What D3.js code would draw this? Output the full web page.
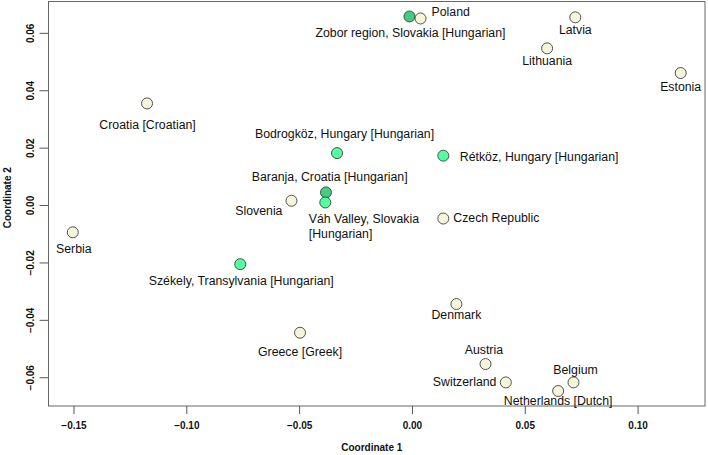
<!DOCTYPE html>
<html>
<head>
<meta charset="utf-8">
<script src="https://cdn.jsdelivr.net/npm/d3@7"></script>
<style>
    body { margin: 0; background: #fff; }
    svg text { font-family: "Liberation Sans", Arial, sans-serif; }
    .axis-text { font-family: "Liberation Sans Narrow", "Arial Narrow", "Liberation Sans", sans-serif !important; font-weight: bold; }
</style>
</head>
<body>
<div id="chart"></div>
<script>
// MDS coordinates
const names = [
    "Zobor region, Slovakia [Hungarian]", "Poland", "Latvia", "Lithuania", "Estonia",
    "Croatia [Croatian]", "Bodrogköz, Hungary [Hungarian]", "Rétköz, Hungary [Hungarian]",
    "Baranja, Croatia [Hungarian]", "Slovenia", "Váh Valley, Slovakia\n[Hungarian]",
    "Czech Republic", "Serbia", "Székely, Transylvania [Hungarian]", "Denmark",
    "Greece [Greek]", "Austria", "Switzerland", "Belgium", "Netherlands [Dutch]"
];
const coord1 = [
    -0.0011, 0.0038, 0.0724, 0.0599, 0.1191,
    -0.1174, -0.0332, 0.0139,
    -0.0381, -0.0534, -0.0384,
    0.0139, -0.1503, -0.0761, 0.0197,
    -0.0496, 0.0326, 0.0416, 0.0716, 0.0648
];
const coord2 = [
    0.0657, 0.0650, 0.0654, 0.0546, 0.0460,
    0.0354, 0.0181, 0.0172,
    0.0044, 0.0015, 0.0009,
    -0.0047, -0.0095, -0.0206, -0.0345,
    -0.0445, -0.0554, -0.0618, -0.0618, -0.0648
];
// 0 = reference population, 1 = Hungarian (bright), 2 = Hungarian (dark)
const groups = [2, 0, 0, 0, 0, 0, 1, 1, 2, 0, 1, 0, 0, 1, 0, 0, 0, 0, 0, 0];
const groupColors = ["#F5F5DC", "#54FF9F", "#43CD80"];

const xTicks = [-0.15, -0.10, -0.05, 0.00, 0.05, 0.10];
const yTicks = [-0.06, -0.04, -0.02, 0.00, 0.02, 0.04, 0.06];
const xTitle = "Coordinate 1";
const yTitle = "Coordinate 2";

// label placement relative to each point: text-anchor, dx, dy
const labelPlacement = {
    "Zobor region, Slovakia [Hungarian]": ["middle", 1, 17],
    "Poland": ["start", 11, -6],
    "Latvia": ["middle", 0, 13],
    "Lithuania": ["middle", 0, 12.5],
    "Estonia": ["middle", 0, 13.5],
    "Croatia [Croatian]": ["middle", 0.5, 22],
    "Bodrogköz, Hungary [Hungarian]": ["middle", 7.5, -19],
    "Rétköz, Hungary [Hungarian]": ["start", 16.5, 1],
    "Baranja, Croatia [Hungarian]": ["middle", 3.7, -15.7],
    "Slovenia": ["end", -9, 10],
    "Váh Valley, Slovakia\n[Hungarian]": ["start", -16.5, 17],
    "Czech Republic": ["start", 10, -1],
    "Serbia": ["middle", 1, 16.5],
    "Székely, Transylvania [Hungarian]": ["middle", 1, 16.7],
    "Denmark": ["middle", 0, 10.6],
    "Greece [Greek]": ["middle", 0, 19],
    "Austria": ["middle", -1.6, -14.3],
    "Switzerland": ["end", -9.4, 0],
    "Belgium": ["middle", 2, -12.4],
    "Netherlands [Dutch]": ["middle", 0, 10.4]
};

const width = 708;
const height = 455;
const plot = { left: 48.5, right: 705, top: 1.5, bottom: 406 };

const data = names.map((name, i) => ({ name, x: coord1[i], y: coord2[i], group: groups[i] }));

// R style axis extension of 4%
function padded(values) {
    const [lo, hi] = d3.extent(values);
    const pad = (hi - lo) * 0.04;
    return [lo - pad, hi + pad];
}

const xScale = d3.scaleLinear().domain(padded(coord1)).range([plot.left, plot.right]);
const yScale = d3.scaleLinear().domain(padded(coord2)).range([plot.bottom, plot.top]);

const svg = d3.select("#chart")
    .append("svg")
    .attr("width", width)
    .attr("height", height);

// box
svg.append("rect")
    .attr("x", plot.left)
    .attr("y", plot.top)
    .attr("width", plot.right - plot.left)
    .attr("height", plot.bottom - plot.top)
    .attr("fill", "none")
    .attr("stroke", "#666")
    .attr("stroke-width", 1);

// axes
const xAxis = d3.axisBottom(xScale)
    .tickValues(xTicks)
    .tickSize(8)
    .tickPadding(8)
    .tickFormat(d3.format(".2f"));

const yAxis = d3.axisLeft(yScale)
    .tickValues(yTicks)
    .tickSize(9)
    .tickFormat(d3.format(".2f"));

const gx = svg.append("g")
    .attr("transform", `translate(0,${plot.bottom})`)
    .call(xAxis);

const gy = svg.append("g")
    .attr("transform", `translate(${plot.left},0)`)
    .call(yAxis);

[gx, gy].forEach(g => {
    g.select(".domain").remove();
    g.selectAll(".tick line").attr("stroke", "#555");
    g.selectAll(".tick text")
        .attr("class", "axis-text")
        .attr("fill", "#111")
        .style("font-size", "10px");
});

gy.selectAll(".tick text")
    .attr("x", null)
    .attr("dy", null)
    .attr("text-anchor", "middle")
    .attr("dominant-baseline", "central")
    .attr("transform", "translate(-18,0) rotate(-90)");

svg.append("text")
    .attr("class", "axis-text")
    .attr("x", (plot.left + plot.right) / 2 - 5)
    .attr("y", 447)
    .attr("text-anchor", "middle")
    .attr("dominant-baseline", "central")
    .style("font-size", "10px")
    .attr("fill", "#111")
    .text(xTitle);

svg.append("text")
    .attr("class", "axis-text")
    .attr("transform", `translate(7,${(plot.top + plot.bottom) / 2 - 6}) rotate(-90)`)
    .attr("text-anchor", "middle")
    .attr("dominant-baseline", "central")
    .style("font-size", "10px")
    .attr("fill", "#111")
    .text(yTitle);

// points
svg.append("g")
    .selectAll("circle")
    .data(data)
    .join("circle")
    .attr("cx", d => xScale(d.x))
    .attr("cy", d => yScale(d.y))
    .attr("r", 5.5)
    .attr("fill", d => groupColors[d.group])
    .attr("stroke", "#2a2a2a")
    .attr("stroke-width", 0.8);

// labels
const labels = svg.append("g")
    .selectAll("text")
    .data(data)
    .join("text")
    .attr("text-anchor", d => labelPlacement[d.name][0])
    .attr("dominant-baseline", "central")
    .style("font-size", "12.3px")
    .attr("fill", "#111");

labels.each(function (d) {
    const [, dx, dy] = labelPlacement[d.name];
    const lines = d.name.split("\n");
    d3.select(this).selectAll("tspan")
        .data(lines)
        .join("tspan")
        .attr("x", xScale(d.x) + dx)
        .attr("y", (l, i) => yScale(d.y) + dy + i * 14.6)
        .text(l => l);
});
</script>
</body>
</html>
